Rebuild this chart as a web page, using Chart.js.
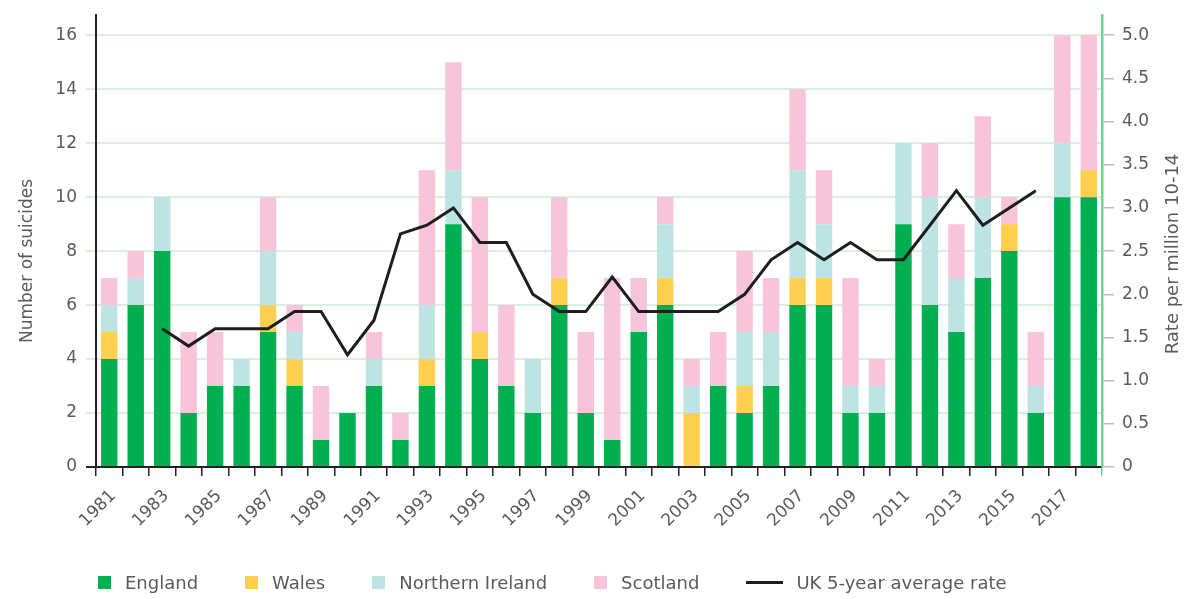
<!DOCTYPE html>
<html>
<head>
<meta charset="utf-8">
<script src="https://cdn.jsdelivr.net/npm/chart.js@4"></script>
<style>
  body { margin: 0; background: #fff; }
  #wrap { position: relative; width: 1191px; height: 599px; }
  #legend {
    position: absolute; left: 98px; top: 571px; height: 22px;
    display: flex; align-items: center;
    font: 18px "DejaVu Sans", sans-serif; color: #5a5a60;
    white-space: nowrap;
  }
  #legend .item { display: flex; align-items: center; margin-right: 47px; }
  #legend .box { width: 13px; height: 13px; margin-right: 14px; }
  #legend .line { width: 37px; height: 3px; margin-right: 13px; }
</style>
</head>
<body>
<div id="wrap">
  <canvas id="suicides-chart" width="1191" height="599"></canvas>
  <div id="legend"></div>
</div>
<script>
// Years on the x axis
const years = [
  '1981', '1982', '1983', '1984', '1985', '1986', '1987', '1988', '1989', '1990',
  '1991', '1992', '1993', '1994', '1995', '1996', '1997', '1998', '1999', '2000',
  '2001', '2002', '2003', '2004', '2005', '2006', '2007', '2008', '2009', '2010',
  '2011', '2012', '2013', '2014', '2015', '2016', '2017', '2018'
]

// Number of suicides per country (stacked)
const england = [4, 6, 8, 2, 3, 3, 5, 3, 1, 2, 3, 1, 3, 9, 4, 3, 2, 6, 2, 1,
                 5, 6, 0, 3, 2, 3, 6, 6, 2, 2, 9, 6, 5, 7, 8, 2, 10, 10]
const wales = [1, 0, 0, 0, 0, 0, 1, 1, 0, 0, 0, 0, 1, 0, 1, 0, 0, 1, 0, 0,
               0, 1, 2, 0, 1, 0, 1, 1, 0, 0, 0, 0, 0, 0, 1, 0, 0, 1]
const northernIreland = [1, 1, 2, 0, 0, 1, 2, 1, 0, 0, 1, 0, 2, 2, 0, 0, 2, 0, 0, 0,
                         0, 2, 1, 0, 2, 2, 4, 2, 1, 1, 3, 4, 2, 3, 0, 1, 2, 0]
const scotland = [1, 1, 0, 3, 2, 0, 2, 1, 2, 0, 1, 1, 5, 4, 5, 3, 0, 3, 3, 6,
                  2, 1, 1, 2, 3, 2, 3, 2, 4, 1, 0, 2, 2, 3, 1, 2, 4, 5]

// UK 5-year average rate per million aged 10-14 (right axis)
const ukAverageRate = [null, null, 1.6, 1.4, 1.6, 1.6, 1.6, 1.8, 1.8, 1.3,
                       1.7, 2.7, 2.8, 3.0, 2.6, 2.6, 2.0, 1.8, 1.8, 2.2,
                       1.8, 1.8, 1.8, 1.8, 2.0, 2.4, 2.6, 2.4, 2.6, 2.4,
                       2.4, 2.8, 3.2, 2.8, 3.0, 3.2, null, null]

const FONT = '"DejaVu Sans", sans-serif'
const TEXT = '#5a5a60'
const AXIS = '#222'
const GREEN_AXIS = '#6fd394'

const barSet = (label, data, color) => ({
  type: 'bar',
  label: label,
  data: data,
  backgroundColor: color,
  borderWidth: 0,
  yAxisID: 'y',
  stack: 'uk',
  order: 2,
  categoryPercentage: 1,
  barPercentage: 0.62
})

// Fix a vertical axis width and drop the label overhang padding it asks for
const fitVertical = width => scale => {
  scale.width = width
  scale.paddingTop = 0
  scale.paddingBottom = 0
}

// Both axis titles read bottom-to-top, so draw them ourselves
const axisTitles = {
  id: 'axisTitles',
  afterDraw(chart) {
    const ctx = chart.ctx
    const draw = (text, x, y, size) => {
      ctx.save()
      ctx.translate(x, y)
      ctx.rotate(-Math.PI / 2)
      ctx.font = `${size}px ${FONT}`
      ctx.fillStyle = TEXT
      ctx.textAlign = 'center'
      ctx.textBaseline = 'middle'
      ctx.fillText(text, 0, 0)
      ctx.restore()
    }
    draw('Number of suicides', 28, 261, 17)
    draw('Rate per million 10-14', 1173, 254, 18)
  }
}

// HTML legend, built from the datasets (wider spacing than the built-in one allows)
const htmlLegend = {
  id: 'htmlLegend',
  afterUpdate(chart) {
    const el = document.getElementById('legend')
    el.innerHTML = ''
    chart.data.datasets.forEach(ds => {
      const item = document.createElement('div')
      item.className = 'item'
      const mark = document.createElement('span')
      mark.className = ds.type === 'line' ? 'line' : 'box'
      mark.style.background = ds.type === 'line' ? ds.borderColor : ds.backgroundColor
      const text = document.createElement('span')
      text.textContent = ds.label
      item.appendChild(mark)
      item.appendChild(text)
      el.appendChild(item)
    })
  }
}

const config = {
  type: 'bar',
  data: {
    labels: years,
    datasets: [
      barSet('England', england, '#00b050'),
      barSet('Wales', wales, '#ffd04f'),
      barSet('Northern Ireland', northernIreland, '#bde3e3'),
      barSet('Scotland', scotland, '#f8c4d9'),
      {
        type: 'line',
        label: 'UK 5-year average rate',
        data: ukAverageRate,
        borderColor: '#1e1e1e',
        backgroundColor: '#1e1e1e',
        borderWidth: 3,
        pointRadius: 0,
        tension: 0,
        yAxisID: 'y1',
        order: 1
      }
    ]
  },
  plugins: [axisTitles, htmlLegend],
  options: {
    responsive: false,
    animation: false,
    layout: { padding: { left: 0, right: 0, top: 15, bottom: 0 } },
    scales: {
      x: {
        stacked: true,
        afterFit: scale => { scale.height = 132 },
        grid: {
          offset: true,
          drawOnChartArea: false,
          color: ctx => ctx.index === undefined ? GREEN_AXIS : AXIS,
          tickLength: 9,
          lineWidth: 1.5
        },
        border: { color: AXIS, width: 2 },
        ticks: {
          autoSkip: false,
          maxRotation: 45,
          minRotation: 45,
          padding: 10,
          labelOffset: 4,
          color: TEXT,
          font: { family: FONT, size: 17 },
          callback: (value, index) => index % 2 === 0 ? years[index] : ''
        }
      },
      y: {
        stacked: true,
        position: 'left',
        min: 0,
        max: 16.75,
        afterFit: fitVertical(96),
        grid: {
          color: ctx => ctx.tick && ctx.tick.value === 0 ? AXIS : '#d9f0df',
          lineWidth: 2,
          tickLength: 10
        },
        border: { color: AXIS, width: 2 },
        ticks: {
          stepSize: 2,
          includeBounds: false,
          color: TEXT,
          padding: 9,
          font: { family: FONT, size: 17 }
        }
      },
      y1: {
        position: 'right',
        min: 0,
        max: 16.75 * 5 / 16,
        afterFit: fitVertical(89),
        grid: { drawOnChartArea: false, color: '#bdbdbd', tickLength: 12, lineWidth: 1.5 },
        border: { color: GREEN_AXIS, width: 2.5 },
        ticks: {
          stepSize: 0.5,
          includeBounds: false,
          color: TEXT,
          padding: 8,
          font: { family: FONT, size: 17 },
          callback: value => value === 0 ? '0' : value.toFixed(1)
        }
      }
    },
    plugins: {
      tooltip: { enabled: false },
      legend: { display: false }
    }
  }
}

new Chart(document.getElementById('suicides-chart'), config)
</script>
</body>
</html>
